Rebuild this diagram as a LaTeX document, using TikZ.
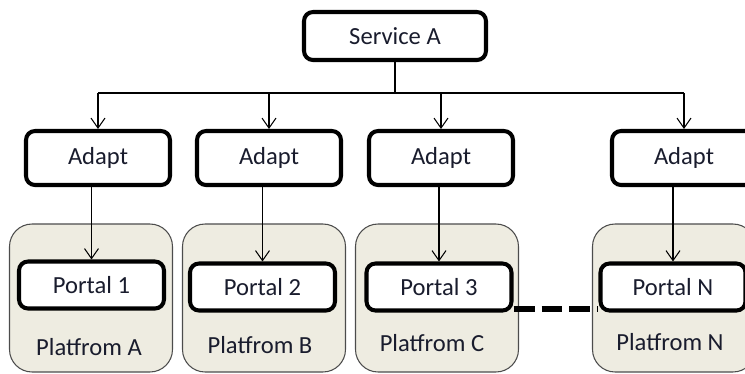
\documentclass[tikz,border=0pt]{standalone}
\usepackage{fontspec}
\setmainfont{Carlito}
\usetikzlibrary{arrows.meta,positioning}
\definecolor{platbeige}{RGB}{238,236,225}
\definecolor{textnavy}{RGB}{25,28,45}
\tikzset{
 block/.style={rectangle,rounded corners=0.18cm,draw=black,line width=2.3pt,fill=white,inner sep=0pt,minimum width=2.88cm,minimum height=1.08cm,align=center,text=textnavy,font=\fontsize{14}{16}\selectfont},
 portal/.style={block,minimum width=2.9cm,minimum height=0.94cm},
 platform/.style={rectangle,rounded corners=0.45cm,draw=black!70,line width=0.6pt,fill=platbeige,minimum width=3.26cm,minimum height=2.96cm},
 pname/.style={text=textnavy,font=\fontsize{14}{16}\selectfont},
 arrow/.style={-{Straight Barb[length=2mm,width=2.8mm]},line width=0.6pt},
 gap/.style={line width=0.12cm,dash pattern=on 0.42cm off 0.14cm}}
\begin{document}
\begin{tikzpicture}[x=0.02cm,y=-0.02cm]
\useasboundingbox (0,0) rectangle (745,373);
\clip (0,0) rectangle (745,373);
% platforms and their portals
\node[platform] (platA) at (91,298) {};
\node[platform] (platB) at (264,298) {};
\node[platform] (platC) at (437,298) {};
\node[platform] (platN) at (674,298) {};
\node[portal] (portal1) at (91.5,285) {Portal 1};
\node[portal] (portal2) at (262.5,287) {Portal 2};
\node[portal] (portal3) at (439,287) {Portal 3};
\node[portal] (portalN) at (673,287) {Portal N};
\node[pname] (nameA) at (89,347) {Platfrom A};
\node[pname] (nameB) at (260,345) {Platfrom B};
\node[pname] (nameC) at (432,343) {Platfrom C};
\node[pname] (nameN) at (670,342) {Platfrom N};
% service and adapters
\node[block,minimum width=3.64cm,minimum height=0.96cm] (svc) at (395,36) {Service A};
\node[block] (adapt1) at (98,158) {Adapt};
\node[block] (adapt2) at (269,158) {Adapt};
\node[block] (adapt3) at (441,158) {Adapt};
\node[block] (adapt4) at (684,158) {Adapt};
\coordinate (bus) at (395,93);
\draw[line width=0.6pt] (svc.south)--(bus); \draw[line width=0.6pt] (bus -| adapt1.north)--(bus -| adapt4.north);
\foreach \i in {1,2,3,4} {\draw[arrow] (bus -| adapt\i.north)--(adapt\i.north);}
\draw[arrow] (portal1.north |- adapt1.south)--(portal1.north); \draw[arrow] (portal2.north |- adapt2.south)--(portal2.north);
\draw[arrow] (portal3.north |- adapt3.south)--(portal3.north); \draw[arrow] (portalN.north |- adapt4.south)--(portalN.north);
\draw[gap] ([yshift=-0.44cm]portal3.east)--([yshift=-0.44cm]portalN.west);
\end{tikzpicture}
\end{document}
